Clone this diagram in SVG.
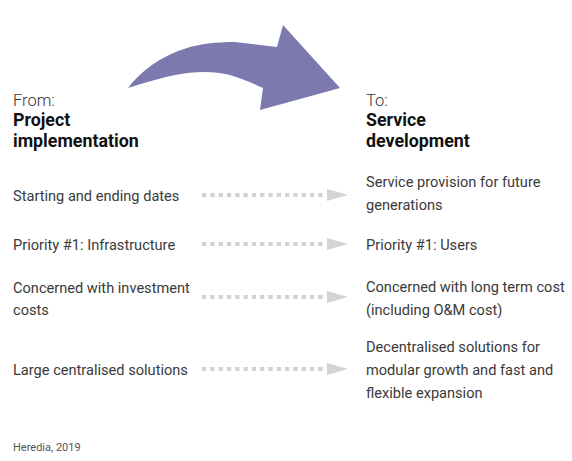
<svg xmlns="http://www.w3.org/2000/svg" width="572" height="461" viewBox="0 0 572 461">
<style>
text{font-family:Roboto,"Liberation Sans",sans-serif;fill:#3a3a3a;font-size:14.6px}
.h{font-size:16.5px;font-weight:300;fill:#333}
.b{font-size:17.8px;font-weight:bold;fill:#111}
.s{font-size:11px;fill:#555}
.dots{stroke:#d2d2d2;stroke-width:4;stroke-dasharray:4.3 4}
.tri{fill:#d4d4d4}
</style>
<defs>
<g id="darrow">
<line class="dots" x1="202" y1="0" x2="326" y2="0"/>
<polygon class="tri" points="327,-6 348,0 327,6"/>
</g>
</defs>
<g id="big-arrow">
<path d="M128,88 C140,72 160,56 187,48 C200,44 215,42 235,42 L277,47 L283,25 L340,88 L260,110 L263,88 C250,82 240,78 230,75 C215,71 195,71 175,75 C160,78 140,84 128,88 Z" fill="#7c79ae"/>
</g>
<g id="from">
<text class="h" x="13" y="106">From:</text>
<text class="b" x="13" y="126">Project</text>
<text class="b" x="13" y="147">implementation</text>
</g>
<g id="to">
<text class="h" x="366" y="106">To:</text>
<text class="b" x="366" y="126">Service</text>
<text class="b" x="366" y="147">development</text>
</g>
<g id="left1"><text x="13" y="201">Starting and ending dates</text></g>
<g id="left2"><text x="13" y="250">Priority #1: Infrastructure</text></g>
<g id="left3"><text x="13" y="293">Concerned with investment</text><text x="13" y="315">costs</text></g>
<g id="left4"><text x="13" y="375">Large centralised solutions</text></g>
<g id="right1"><text x="366" y="187">Service provision for future</text><text x="366" y="210">generations</text></g>
<g id="right2"><text x="366" y="250">Priority #1: Users</text></g>
<g id="right3"><text x="366" y="292">Concerned with long term cost</text><text x="366" y="315">(including O&amp;M cost)</text></g>
<g id="right4"><text x="366" y="352">Decentralised solutions for</text><text x="366" y="375">modular growth and fast and</text><text x="366" y="398">flexible expansion</text></g>
<g id="connectors">
<use href="#darrow" y="195"/>
<use href="#darrow" y="244"/>
<use href="#darrow" y="297"/>
<use href="#darrow" y="369"/>
</g>
<g id="source"><text class="s" x="13" y="451">Heredia, 2019</text></g>
</svg>
